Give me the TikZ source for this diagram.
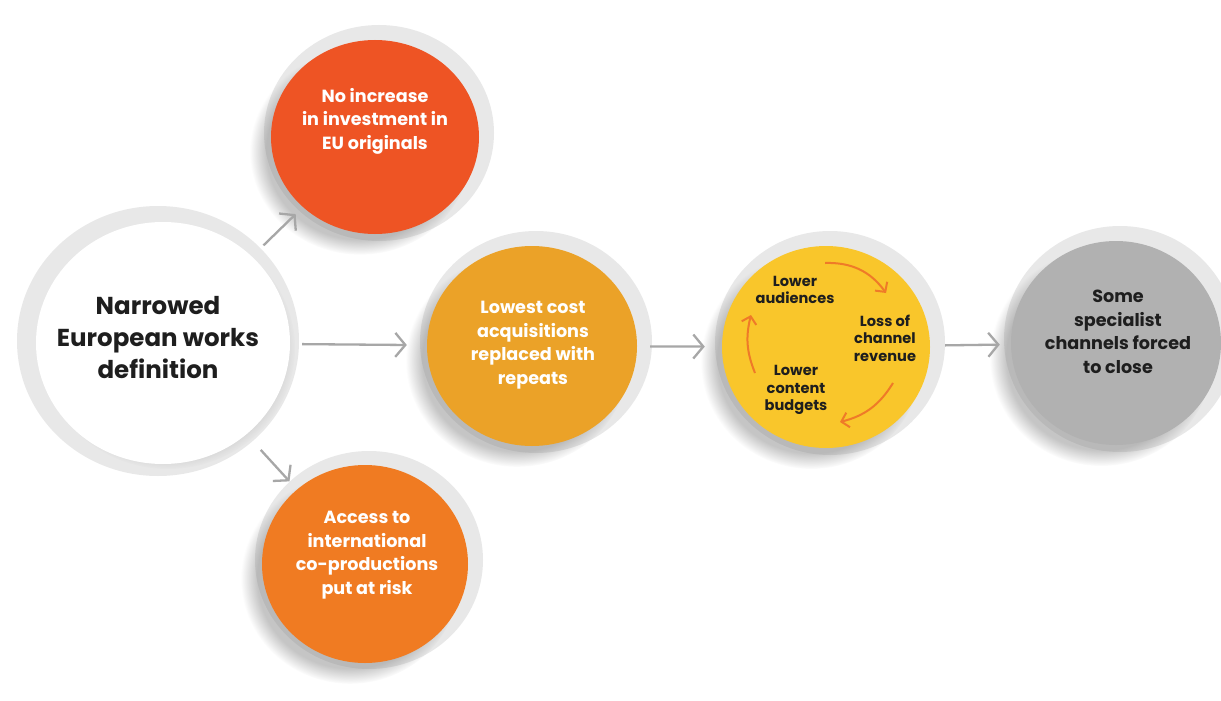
\documentclass[tikz,border=0pt]{standalone}
\usepackage{fontspec}
\setmainfont{Poppins}
\usetikzlibrary{arrows.meta,shapes.geometric,shadows,fadings}
\definecolor{cred}{HTML}{EE5424}
\definecolor{corange}{HTML}{F07B22}
\definecolor{camber}{HTML}{EBA228}
\definecolor{cyellow}{HTML}{F9C62B}
\definecolor{cgray}{HTML}{B1B1B1}
\definecolor{cring}{HTML}{E8E8E8}
\definecolor{carrow}{HTML}{A7A7A7}
\definecolor{cloop}{HTML}{EF7A28}
\definecolor{cink}{HTML}{1E1E1E}
\begin{document}
\begin{tikzpicture}[x=1pt,y=-1pt,
  ring/.style={ellipse, fill=cring, draw=none, inner sep=0pt},
  disc/.style={ellipse, draw=none, inner sep=0pt},
  longshadow/.style={circular drop shadow={shadow xshift=-14pt, shadow yshift=-14pt, shadow scale=1.06, opacity=0.45}},
  softshadow/.style={circular drop shadow={shadow xshift=5pt, shadow yshift=-5pt, shadow scale=1.0, opacity=0.3}},
  wtxt/.style={align=center, text=white, font=\bfseries\fontsize{17.6}{23.5}\selectfont},
  btxt/.style={align=center, text=cink, font=\bfseries\fontsize{17.6}{23.5}\selectfont},
  ytxt/.style={align=center, text=cink, font=\bfseries\fontsize{14.6}{17.5}\selectfont},
  flow/.style={draw=carrow, line width=2.3pt, -{Straight Barb[length=10pt,width=24pt]}},
  loop/.style={draw=cloop, line width=2pt, -{Straight Barb[length=7pt,width=15pt]}},
]
\useasboundingbox (0,0) rectangle (1221,701);
\fill[white] (0,0) rectangle (1221,701);

% source circle
\node[ring, minimum width=282pt, minimum height=270pt] (srcring) at (158,341) {};
\node[disc, fill=white, softshadow, minimum width=254pt, minimum height=242pt] (src) at (163,343) {};
\node[align=center, text=cink, font=\bfseries\fontsize{24.5}{32}\selectfont] (srct) at (158,338) {Narrowed\\European works\\definition};

% red
\node[ring, minimum width=230pt, minimum height=216pt] (redring) at (379,133) {};
\node[disc, fill=cred, longshadow, minimum width=208pt, minimum height=194pt] (red) at (375,137) {};
\node[wtxt] (redt) at (375,121) {No increase\\in investment in\\EU originals};

% orange bottom
\node[ring, minimum width=228pt, minimum height=218pt] (orgring) at (369,560) {};
\node[disc, fill=corange, longshadow, minimum width=206pt, minimum height=198pt] (org) at (365,564) {};
\node[wtxt] (orgt) at (367,555) {Access to\\international\\co-productions\\put at risk};

% amber
\node[ring, minimum width=232pt, minimum height=222pt] (ambring) at (536,342) {};
\node[disc, fill=camber, longshadow, minimum width=210pt, minimum height=200pt] (amb) at (532,346) {};
\node[wtxt] (ambt) at (533,345) {Lowest cost\\acquisitions\\replaced with\\repeats};

% yellow
\node[ring, minimum width=230pt, minimum height=224pt] (yelring) at (830,343) {};
\node[disc, fill=cyellow, longshadow, minimum width=208pt, minimum height=202pt] (yel) at (826,347) {};
\node[ytxt] (y1) at (795,290) {Lower\\audiences};
\node[ytxt] (y2) at (885,338) {Loss of\\channel\\revenue};
\node[ytxt] (y3) at (796,390) {Lower\\content\\budgets};
\coordinate (l1a) at (825,263);
\coordinate (l1b) at (886,293);
\coordinate (l2a) at (893,383);
\coordinate (l2b) at (840,422);
\coordinate (l3a) at (755,373);
\coordinate (l3b) at (751,315);
\draw[loop] (l1a) to[bend left=28] (l1b);
\draw[loop] (l2a) to[bend left=22] (l2b);
\draw[loop] (l3a) to[bend left=18] (l3b);

% gray
\node[ring, minimum width=232pt, minimum height=226pt] (gryring) at (1120,339) {};
\node[disc, fill=cgray, longshadow, minimum width=210pt, minimum height=204pt] (gry) at (1116,343) {};
\node[btxt] (gryt) at (1118,332) {Some\\specialist\\channels forced\\to close};

% connectors
\draw[flow, shorten <=16pt, shorten >=10pt] (src) -- (red);
\draw[flow, shorten <=21pt, shorten >=11pt] (src) -- (org);
\draw[flow, shorten <=12pt, shorten >=20pt] (src) -- (amb);
\draw[flow, shorten <=13pt, shorten >=17pt] (amb) -- (yel);
\draw[flow, shorten <=15pt, shorten >=11pt] (yel) -- (gry);
\end{tikzpicture}
\end{document}
